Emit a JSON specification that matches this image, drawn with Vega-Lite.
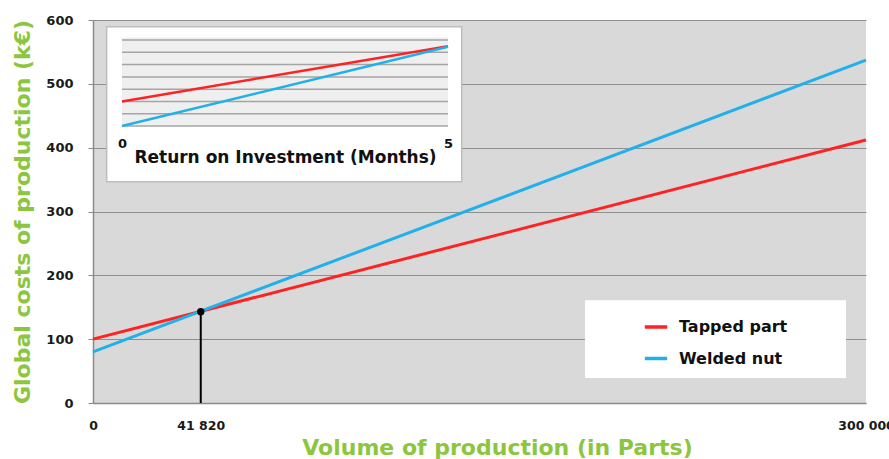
{
  "$schema": "https://vega.github.io/schema/vega-lite/v6.json",
  "width": 773,
  "height": 383,
  "autosize": {"type": "none"},
  "padding": {"left": 93, "top": 20, "right": 23, "bottom": 56},
  "background": "white",
  "config": {
    "font": "DejaVu Sans",
    "view": {"fill": "#d9d9d9", "stroke": null}
  },
  "datasets": {
    "main": [
      {"series": "Tapped part", "volume": 0, "cost": 100},
      {"series": "Tapped part", "volume": 300000, "cost": 412},
      {"series": "Welded nut", "volume": 0, "cost": 80},
      {"series": "Welded nut", "volume": 300000, "cost": 537}
    ],
    "breakeven": [{"volume": 41820, "cost": 143}],
    "inset": [
      {"series": "Tapped part", "month": 0, "value": 2},
      {"series": "Tapped part", "month": 5, "value": 6.5},
      {"series": "Welded nut", "month": 0, "value": 0},
      {"series": "Welded nut", "month": 5, "value": 6.45}
    ],
    "insetgrid": [{"g": 0}, {"g": 1}, {"g": 2}, {"g": 3}, {"g": 4}, {"g": 5}, {"g": 6}, {"g": 7}]
  },
  "layer": [
    {
      "layer": [
        {
          "data": {"values": [{}]},
          "mark": {"type": "rect", "fill": "white"},
          "encoding": {
            "x": {"datum": 190945, "type": "quantitative",
              "scale": {"domain": [0, 300000], "nice": false, "zero": false},
              "axis": {
                "values": [0, 41820, 300000],
                "labelExpr": "datum.value === 41820 ? '41 820' : datum.value === 300000 ? '300 000' : '0'",
                "grid": false, "ticks": false, "domainColor": "#8a8a8a", "domainWidth": 1.5,
                "labelPadding": 16, "labelFlush": false, "labelOverlap": false,
                "labelFont": "DejaVu Sans", "labelFontWeight": "bold", "labelFontSize": 12.5, "labelColor": "#1a1a1a",
                "title": "Volume of production (in Parts)",
                "titleX": 404, "titleAlign": "center",
                "titleFont": "DejaVu Sans", "titleFontWeight": "bold", "titleFontSize": 22,
                "titleColor": "#8cc63e", "titlePadding": 6
              }
            },
            "x2": {"datum": 292238},
            "y": {"datum": 161, "type": "quantitative",
              "scale": {"domain": [0, 600], "nice": false, "zero": false},
              "axis": {
                "values": [0, 100, 200, 300, 400, 500, 600],
                "grid": true, "gridColor": "#8f8f8f", "gridWidth": 1.2,
                "domainColor": "#8a8a8a", "domainWidth": 1.5, "tickColor": "#8a8a8a", "tickSize": 5,
                "labelPadding": 15, "labelFlush": false,
                "labelFont": "DejaVu Sans", "labelFontWeight": "bold", "labelFontSize": 13, "labelColor": "#1a1a1a",
                "title": "Global costs of production (k€)",
                "titleFont": "DejaVu Sans", "titleFontWeight": "bold", "titleFontSize": 22,
                "titleColor": "#8cc63e", "titlePadding": 11
              }
            },
            "y2": {"datum": 39}
          }
        },
        {
          "data": {"name": "main"},
          "mark": {"type": "line", "strokeWidth": 3},
          "encoding": {
            "x": {"field": "volume", "type": "quantitative"},
            "y": {"field": "cost", "type": "quantitative"},
            "color": {
              "field": "series", "type": "nominal",
              "scale": {"domain": ["Tapped part", "Welded nut"], "range": ["#ff2222", "#22b0ea"]},
              "legend": {
                "orient": "none", "legendX": 550, "legendY": 294, "title": null,
                "padding": 0, "symbolType": "stroke", "symbolSize": 500, "symbolStrokeWidth": 3.5,
                "labelFont": "DejaVu Sans", "labelFontWeight": "bold", "labelFontSize": 16,
                "labelColor": "#111", "labelOffset": 10, "rowPadding": 10.5
              }
            }
          }
        },
        {
          "data": {"name": "breakeven"},
          "mark": {"type": "rule", "color": "black", "strokeWidth": 2},
          "encoding": {
            "x": {"field": "volume", "type": "quantitative"},
            "y": {"field": "cost", "type": "quantitative"},
            "y2": {"datum": 0}
          }
        },
        {
          "data": {"name": "breakeven"},
          "mark": {"type": "point", "filled": true, "color": "black", "size": 55, "opacity": 1},
          "encoding": {
            "x": {"field": "volume", "type": "quantitative"},
            "y": {"field": "cost", "type": "quantitative"}
          }
        }
      ]
    },
    {
      "layer": [
        {
          "data": {"values": [{}]},
          "mark": {"type": "rect", "fill": "white", "stroke": "#bdbdbd", "strokeWidth": 1.5},
          "encoding": {
            "x": {"datum": -0.235, "type": "quantitative",
              "scale": {"domain": [-0.4448, 11.411], "nice": false, "zero": false},
              "axis": {
                "orient": "bottom", "offset": -276, "values": [0, 5], "format": "d", "zindex": 5,
                "grid": false, "domain": false, "ticks": false,
                "labelPadding": 10, "labelFlush": false, "labelOverlap": false,
                "labelFont": "DejaVu Sans", "labelFontWeight": "bold", "labelFontSize": 13, "labelColor": "#111",
                "title": "Return on Investment (Months)",
                "titleX": 192, "titleY": 22, "titleAlign": "center", "titleBaseline": "top",
                "titleFont": "DejaVu Sans", "titleFontWeight": "bold", "titleFontSize": 17, "titleColor": "#111"
              }
            },
            "x2": {"datum": 5.21},
            "y": {"datum": 8.085, "type": "quantitative",
              "scale": {"domain": [-22.54, 8.63], "nice": false, "zero": false},
              "axis": null
            },
            "y2": {"datum": -4.53}
          }
        },
        {
          "data": {"values": [{}]},
          "mark": {"type": "rect", "fill": "#efefef"},
          "encoding": {
            "x": {"datum": 0, "type": "quantitative"},
            "x2": {"datum": 5},
            "y": {"datum": 7.2, "type": "quantitative"},
            "y2": {"datum": 0}
          }
        },
        {
          "data": {"name": "insetgrid"},
          "mark": {"type": "rule", "color": "#a5a5a5", "strokeWidth": 1.5},
          "encoding": {
            "x": {"datum": 0, "type": "quantitative"},
            "x2": {"datum": 5},
            "y": {"field": "g", "type": "quantitative"}
          }
        },
        {
          "data": {"name": "inset"},
          "mark": {"type": "line", "strokeWidth": 2.5},
          "encoding": {
            "x": {"field": "month", "type": "quantitative"},
            "y": {"field": "value", "type": "quantitative"},
            "color": {"field": "series", "type": "nominal", "legend": null}
          }
        }
      ]
    }
  ],
  "resolve": {
    "scale": {"x": "independent", "y": "independent"},
    "axis": {"x": "independent", "y": "independent"}
  }
}
